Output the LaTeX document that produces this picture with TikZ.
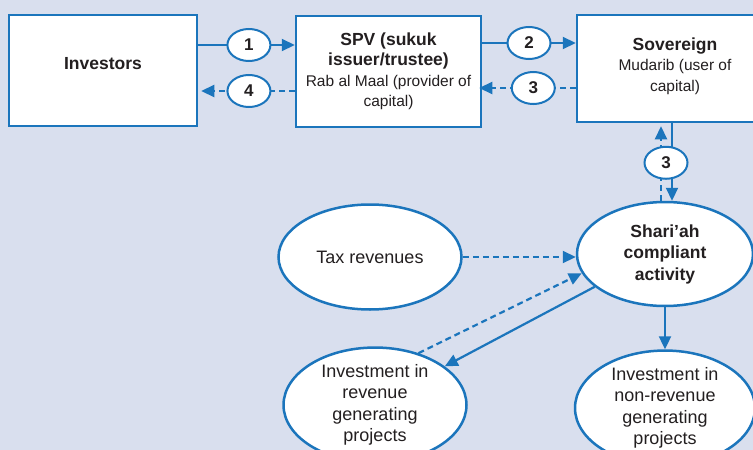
\documentclass[tikz,border=0pt]{standalone}
\usepackage{fontspec}
\setmainfont{Liberation Sans}
\usetikzlibrary{shapes.geometric,arrows.meta,calc}
\definecolor{colorblue}{RGB}{27,117,188}
\definecolor{colorbg}{RGB}{217,223,238}
\definecolor{colortext}{RGB}{35,31,32}
\newcommand{\bigtxt}{\fontsize{17.5}{20.5}\selectfont\bfseries}
\newcommand{\smalltxt}{\fontsize{15.5}{20.5}\selectfont}
\tikzset{
  box/.style={draw=colorblue,line width=2.5pt,fill=white,inner sep=0pt,align=center,
    text=colortext,font=\fontsize{15.5}{20.5}\selectfont},
  oval/.style={ellipse,draw=colorblue,line width=2.5pt,fill=white,inner sep=0pt,align=center,
    text=colortext,font=\fontsize{18}{21.5}\selectfont},
  tag/.style={ellipse,draw=colorblue,line width=2pt,fill=white,inner sep=0pt,solid,text=colortext,
    minimum width=43pt,minimum height=32pt,font=\fontsize{17}{20}\selectfont\bfseries},
  flow/.style={draw=colorblue,line width=2.2pt,-{Triangle[length=13pt,width=12pt]}},
  dflow/.style={flow,dash pattern=on 6pt off 4pt},
}

\begin{document}
\begin{tikzpicture}[x=1pt,y=-1pt]
\useasboundingbox (0,0) rectangle (753,450);
\fill[colorbg] (0,0) rectangle (753,450);

% Top row of boxes
\node[box,minimum width=188pt,minimum height=111pt,text depth=14pt] (inv) at (103,70.5) {\bigtxt Investors};
\node[box,minimum width=185pt,minimum height=111pt] (spv) at (388.5,71.5) {\bigtxt SPV (sukuk\\ \bigtxt issuer/trustee)\\ \smalltxt Rab al Maal (provider of\\ \smalltxt capital)};
\node[box,minimum width=196pt,minimum height=107pt] (sov) at (675,68.5) {\bigtxt Sovereign\\ \smalltxt Mudarib (user of\\ \smalltxt capital)\\[-12pt]};

% Ellipses
\node[oval,minimum width=176pt,minimum height=104pt,font=\fontsize{17.5}{21.5}\selectfont\bfseries] (shariah) at (665,254) {Shari'ah\\ compliant\\ activity};
\node[oval,minimum width=183pt,minimum height=105pt] (tax) at (370,257) {Tax revenues};
\node[oval,minimum width=183pt,minimum height=106pt] (rev) at (375,405) {Investment in\\ revenue\\ generating\\ projects};
\node[oval,minimum width=180pt,minimum height=106pt] (nonrev) at (665,408) {Investment in\\ non-revenue\\ generating\\ projects};

% Flows between the boxes
\draw[flow] (inv.east |- 0,45) -- node[tag,pos=0.525] (tag1) {1} (spv.west |- 0,45);
\draw[dflow] (spv.west |- 0,91) -- node[tag,pos=0.49] (tag4) {4} ([xshift=3pt]inv.east |- 0,91);
\draw[flow] (spv.east |- 0,43) -- node[tag,pos=0.5] (tag2) {2} (sov.west |- 0,43);
\draw[dflow] (sov.west |- 0,88) -- node[tag,pos=0.44] (tag3) {3} ([xshift=-3pt]spv.east |- 0,88);

% Sovereign and activity
\draw[dflow] (661,0 |- shariah.north) -- ([yshift=-3pt]661,0 |- sov.south);
\draw[flow] (672,0 |- sov.south) -- node[tag,pos=0.51,xshift=-6pt] (tag3b) {3} (672,0 |- shariah.north);

% Flows round the activity
\draw[dflow] (tax.east) -- (tax.east -| shariah.west);
\draw[flow] (shariah.205) -- (rev.29);
\draw[dflow] (rev.50) -- (shariah.193);
\draw[flow] (shariah.south) -- (nonrev.north);
\end{tikzpicture}
\end{document}
